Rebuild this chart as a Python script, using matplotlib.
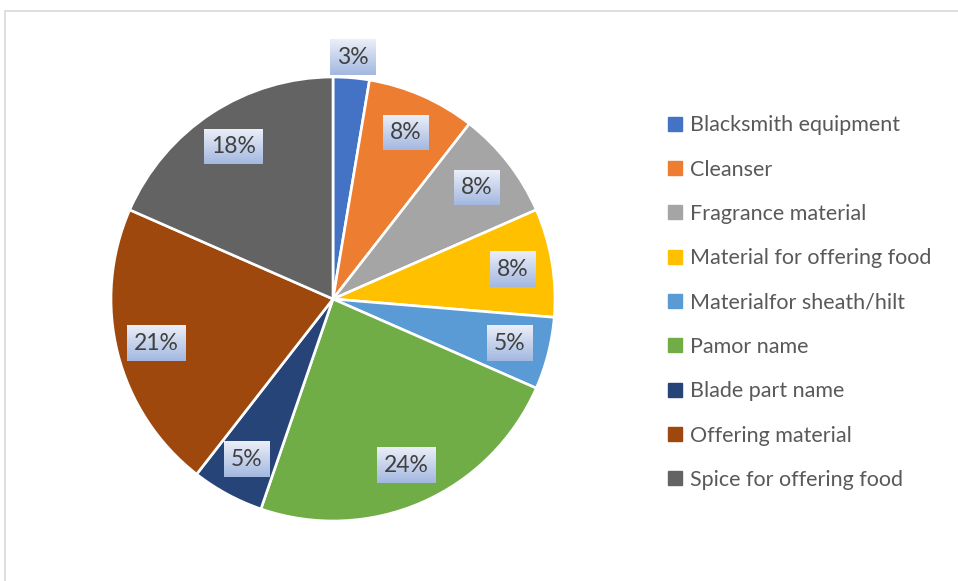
import numpy as np
import matplotlib.pyplot as plt
from matplotlib.patches import Rectangle

categories = ['Blacksmith equipment', 'Cleanser', 'Fragrance material',
              'Material for offering food', 'Materialfor sheath/hilt',
              'Pamor name', 'Blade part name', 'Offering material',
              'Spice for offering food']
counts = [1, 3, 3, 3, 2, 9, 2, 8, 7]
colors = ['#4472C4', '#ED7D31', '#A5A5A5', '#FFC000', '#5B9BD5',
          '#70AD47', '#264478', '#9E480E', '#636363']

plt.rcParams['font.family'] = ['Lato', 'DejaVu Sans']

W, H = 958, 581
fig = plt.figure(figsize=(W / 100, H / 100), dpi=100)

# chart area border (runs off the right/bottom edge)
fig.patches.append(Rectangle((5 / W, -0.1), 1.2, 1 - 11 / H + 0.1,
                             transform=fig.transFigure, fill=False,
                             edgecolor='#d9d9d9', linewidth=1.2))

# pie axes: centre at (333, 299) px, radius 222 px
cx, cy, R = 333, 299, 222
half = 1.2 * R
ax = fig.add_axes([(cx - half) / W, (H - cy - half) / H, 2 * half / W, 2 * half / H])

wedges, _ = ax.pie(counts, colors=colors, startangle=90, counterclock=False,
                   wedgeprops=dict(edgecolor='white', linewidth=1.9))
ax.set_xlim(-1.2, 1.2)
ax.set_ylim(-1.2, 1.2)
ax.set_aspect('auto')
ax.axis('off')

total = sum(counts)
texts = []
for i, w in enumerate(wedges):
    ang = np.deg2rad((w.theta1 + w.theta2) / 2)
    dist = 1.09 if i == 0 else 0.82
    t = ax.text(dist * np.cos(ang), dist * np.sin(ang), f'{counts[i] / total:.0%}',
                ha='center', va='center', fontsize=16.5, color='#404040', zorder=6)
    texts.append(t)

# gradient boxes behind labels
fig.canvas.draw()
r = fig.canvas.get_renderer()
grad = np.linspace(0, 1, 64)[:, None]
top = np.array([0.92, 0.935, 0.97])
bot = np.array([0.64, 0.72, 0.88])
img = top[None, None, :] * (1 - grad[:, :, None]) + bot[None, None, :] * grad[:, :, None]
inv = ax.transData.inverted()
for t in texts:
    bb = t.get_window_extent(r)
    x0, y0 = inv.transform((bb.x0 - 7, bb.y0 - 7))
    x1, y1 = inv.transform((bb.x1 + 7, bb.y1 + 7))
    ax.imshow(img, extent=(x0, x1, y0, y1), aspect='auto', zorder=5, clip_on=False)
ax.set_xlim(-1.2, 1.2)
ax.set_ylim(-1.2, 1.2)

handles = [Rectangle((0, 0), 1, 1, color=c) for c in colors]
leg = fig.legend(handles, categories, loc='upper left',
                 bbox_to_anchor=(649 / W, 1 - 96 / H), frameon=False,
                 fontsize=15.5, handlelength=0.62, handleheight=0.62,
                 handletextpad=0.4, labelspacing=1.13)
for txt in leg.get_texts():
    txt.set_color('#595959')

fig.savefig('out.png', dpi=100)
